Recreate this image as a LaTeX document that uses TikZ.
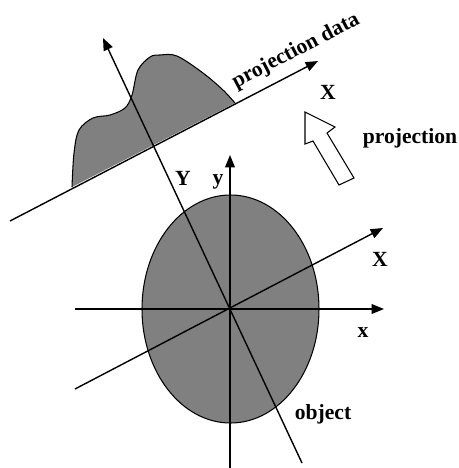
\documentclass[tikz,border=0pt]{standalone}
\usepackage{fontspec}
\setmainfont{Liberation Serif}
\usepackage{tikz}
\usetikzlibrary{arrows.meta, positioning}

\begin{document}
\begin{tikzpicture}[
    x=0.02cm, y=-0.02cm,
    every node/.style={font=\fontsize{12.3}{14}\selectfont\bfseries},
    axis/.style={draw, line width=0.8pt, -{Triangle[length=7pt, width=5.5pt]}},
    shade/.style={fill=black!50, draw=black, line width=0.6pt}
]
\useasboundingbox (0,0) rectangle (459,468);

% Object
\path[shade] (230.5,309) ellipse [x radius=88.5, y radius=114];

% Projection data profile
\fill[black!50] (72,187) plot[smooth, tension=0.55] coordinates {(72,187) (74,153) (79,130) (93,118) (110,115) (125,108) (132,95) (138,70) (150,57) (160,55) (177,56) (203,73) (223,90) (235,103)} -- cycle;
\draw[line width=0.6pt] plot[smooth, tension=0.55] coordinates {(72,187) (74,153) (79,130) (93,118) (110,115) (125,108) (132,95) (138,70) (150,57) (160,55) (177,56) (203,73) (223,90) (235,103)};

% Axis end points
\coordinate (o) at (230,309);
\coordinate (xa) at (75,309);
\coordinate (xb) at (384,309);
\coordinate (ya) at (230,468);
\coordinate (yb) at (230,155);
\coordinate (Xa) at (75,389);
\coordinate (Xb) at (383,228);
\coordinate (Ya) at (302,463);
\coordinate (Yb) at (103,38);
\coordinate (pa) at (10,221);
\coordinate (pb) at (318,61);

% Axes
\draw[axis] (xa) -- (xb);
\draw[axis] (ya) -- (yb);
\draw[axis] (Xa) -- (Xb);
\draw[axis] (Ya) -- (Yb);
\draw[axis] (pa) -- (pb);

% Projection direction
\draw[line width=0.6pt, fill=white] (305,112) -- (335,127) -- (327,133) -- (354,178)
    -- (339,185) -- (313,141) -- (305,144) -- cycle;

% Labels
\node[rotate=27.5] (pdata) at (296,51) {projection data};
\node (Xtop) at (328,92) {X};
\node (proj) at (410,138) {projection};
\node (Ylab) at (183,178) {Y};
\node (ylab) at (218,182) {y};
\node (Xlab) at (380,259) {X};
\node (xlab) at (363,333) {x};
\node (objlab) at (323,414) {object};

\end{tikzpicture}
\end{document}
